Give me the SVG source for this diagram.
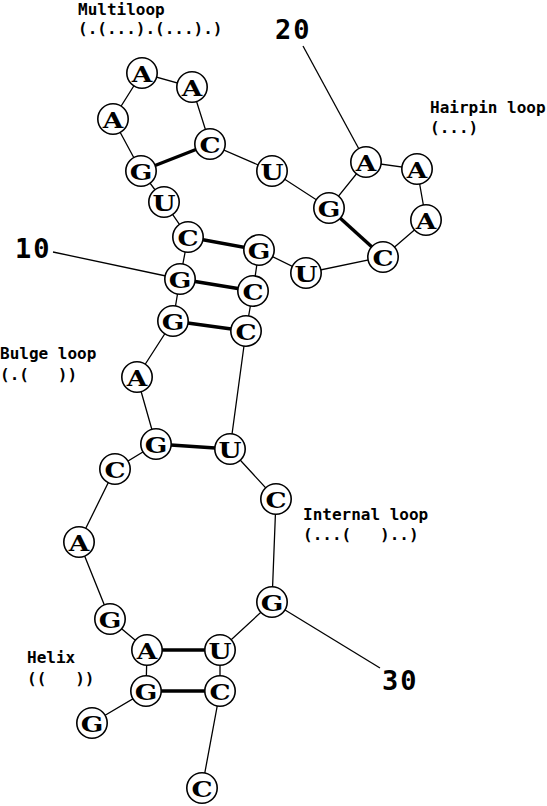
<svg xmlns="http://www.w3.org/2000/svg" width="547" height="806" viewBox="0 0 547 806">
<style>
.bb{stroke:#000;stroke-width:1.3;fill:none}
.bp{stroke:#000;stroke-width:3.4;fill:none}
.nc{fill:#fff;stroke:#000;stroke-width:1.6}
.nt{font-family:"DejaVu Serif",serif;font-weight:bold;font-size:23px;text-anchor:middle;fill:#000}
.lb{font-family:"DejaVu Sans Mono",monospace;font-weight:bold;font-size:16px;fill:#000;white-space:pre}
.num{font-family:"DejaVu Sans Mono",monospace;font-weight:bold;font-size:27px;letter-spacing:2px;fill:#000}
</style>
<defs>
<circle id="ring" class="nc" r="15.2"/>
</defs>
<rect width="547" height="806" fill="#fff"/>
<g id="connectors">
<polyline class="bb" points="92,723 146,691 147,650 110,619 79,542 115,469 156,444 137,377 173,321 180,279 188,237 164,202 141,171 113,119 142,73 192,87 210,144 272,171 329,208 366,162 417,169 426,220 383,257 306,273 259,250 253,291 246,331 230,449 276,499 272,602 220,650 220,691 202,788"/>
<line class="bp" x1="146" y1="691" x2="220" y2="691"/>
<line class="bp" x1="147" y1="650" x2="220" y2="650"/>
<line class="bp" x1="156" y1="444" x2="230" y2="449"/>
<line class="bp" x1="173" y1="321" x2="246" y2="331"/>
<line class="bp" x1="180" y1="279" x2="253" y2="291"/>
<line class="bp" x1="188" y1="237" x2="259" y2="250"/>
<line class="bp" x1="141" y1="171" x2="210" y2="144"/>
<line class="bp" x1="329" y1="208" x2="383" y2="257"/>
<line class="bb" x1="53" y1="252" x2="180" y2="279"/>
<line class="bb" x1="303" y1="46" x2="366" y2="162"/>
<line class="bb" x1="272" y1="602" x2="380" y2="668"/>
</g>
<g id="n1" transform="translate(92,723)"><use href="#ring"/><text class="nt" y="8.5" transform="scale(1.15,1)">G</text></g>
<g id="n2" transform="translate(146,691)"><use href="#ring"/><text class="nt" y="8.5" transform="scale(1.15,1)">G</text></g>
<g id="n3" transform="translate(147,650)"><use href="#ring"/><text class="nt" y="8.5" transform="scale(1.15,1)">A</text></g>
<g id="n4" transform="translate(110,619)"><use href="#ring"/><text class="nt" y="8.5" transform="scale(1.15,1)">G</text></g>
<g id="n5" transform="translate(79,542)"><use href="#ring"/><text class="nt" y="8.5" transform="scale(1.15,1)">A</text></g>
<g id="n6" transform="translate(115,469)"><use href="#ring"/><text class="nt" y="8.5" transform="scale(1.15,1)">C</text></g>
<g id="n7" transform="translate(156,444)"><use href="#ring"/><text class="nt" y="8.5" transform="scale(1.15,1)">G</text></g>
<g id="n8" transform="translate(137,377)"><use href="#ring"/><text class="nt" y="8.5" transform="scale(1.15,1)">A</text></g>
<g id="n9" transform="translate(173,321)"><use href="#ring"/><text class="nt" y="8.5" transform="scale(1.15,1)">G</text></g>
<g id="n10" transform="translate(180,279)"><use href="#ring"/><text class="nt" y="8.5" transform="scale(1.15,1)">G</text></g>
<g id="n11" transform="translate(188,237)"><use href="#ring"/><text class="nt" y="8.5" transform="scale(1.15,1)">C</text></g>
<g id="n12" transform="translate(164,202)"><use href="#ring"/><text class="nt" y="8.5" transform="scale(1.15,1)">U</text></g>
<g id="n13" transform="translate(141,171)"><use href="#ring"/><text class="nt" y="8.5" transform="scale(1.15,1)">G</text></g>
<g id="n14" transform="translate(113,119)"><use href="#ring"/><text class="nt" y="8.5" transform="scale(1.15,1)">A</text></g>
<g id="n15" transform="translate(142,73)"><use href="#ring"/><text class="nt" y="8.5" transform="scale(1.15,1)">A</text></g>
<g id="n16" transform="translate(192,87)"><use href="#ring"/><text class="nt" y="8.5" transform="scale(1.15,1)">A</text></g>
<g id="n17" transform="translate(210,144)"><use href="#ring"/><text class="nt" y="8.5" transform="scale(1.15,1)">C</text></g>
<g id="n18" transform="translate(272,171)"><use href="#ring"/><text class="nt" y="8.5" transform="scale(1.15,1)">U</text></g>
<g id="n19" transform="translate(329,208)"><use href="#ring"/><text class="nt" y="8.5" transform="scale(1.15,1)">G</text></g>
<g id="n20" transform="translate(366,162)"><use href="#ring"/><text class="nt" y="8.5" transform="scale(1.15,1)">A</text></g>
<g id="n21" transform="translate(417,169)"><use href="#ring"/><text class="nt" y="8.5" transform="scale(1.15,1)">A</text></g>
<g id="n22" transform="translate(426,220)"><use href="#ring"/><text class="nt" y="8.5" transform="scale(1.15,1)">A</text></g>
<g id="n23" transform="translate(383,257)"><use href="#ring"/><text class="nt" y="8.5" transform="scale(1.15,1)">C</text></g>
<g id="n24" transform="translate(306,273)"><use href="#ring"/><text class="nt" y="8.5" transform="scale(1.15,1)">U</text></g>
<g id="n25" transform="translate(259,250)"><use href="#ring"/><text class="nt" y="8.5" transform="scale(1.15,1)">G</text></g>
<g id="n26" transform="translate(253,291)"><use href="#ring"/><text class="nt" y="8.5" transform="scale(1.15,1)">C</text></g>
<g id="n27" transform="translate(246,331)"><use href="#ring"/><text class="nt" y="8.5" transform="scale(1.15,1)">C</text></g>
<g id="n28" transform="translate(230,449)"><use href="#ring"/><text class="nt" y="8.5" transform="scale(1.15,1)">U</text></g>
<g id="n29" transform="translate(276,499)"><use href="#ring"/><text class="nt" y="8.5" transform="scale(1.15,1)">C</text></g>
<g id="n30" transform="translate(272,602)"><use href="#ring"/><text class="nt" y="8.5" transform="scale(1.15,1)">G</text></g>
<g id="n31" transform="translate(220,650)"><use href="#ring"/><text class="nt" y="8.5" transform="scale(1.15,1)">U</text></g>
<g id="n32" transform="translate(220,691)"><use href="#ring"/><text class="nt" y="8.5" transform="scale(1.15,1)">C</text></g>
<g id="n33" transform="translate(202,788)"><use href="#ring"/><text class="nt" y="8.5" transform="scale(1.15,1)">C</text></g>
<g id="labels">
<text class="lb" x="78" y="15">Multiloop</text>
<text class="lb" x="78" y="34" xml:space="preserve">(.(...).(...).)</text>
<text class="lb" x="430" y="113">Hairpin loop</text>
<text class="lb" x="430" y="133" xml:space="preserve">(...)</text>
<text class="lb" x="0" y="359">Bulge loop</text>
<text class="lb" x="0" y="380" xml:space="preserve">(.(   ))</text>
<text class="lb" x="303" y="520">Internal loop</text>
<text class="lb" x="303" y="540" xml:space="preserve">(...(   )..)</text>
<text class="lb" x="27" y="663">Helix</text>
<text class="lb" x="27" y="684" xml:space="preserve">((   ))</text>
<text class="num" x="15" y="258">10</text>
<text class="num" x="275" y="39">20</text>
<text class="num" x="382" y="690">30</text>
</g>
</svg>
